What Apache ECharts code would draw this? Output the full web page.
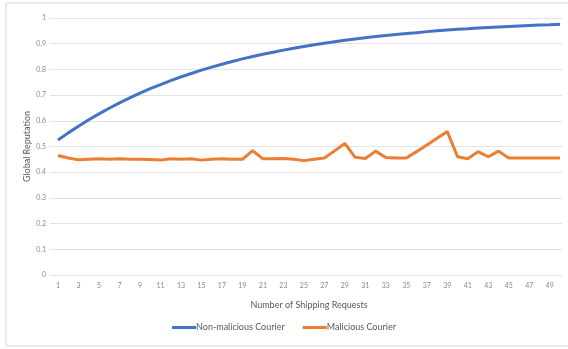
<!DOCTYPE html>
<html><head><meta charset="utf-8">
<script src="https://cdn.jsdelivr.net/npm/echarts@6/dist/echarts.min.js"></script>
<style>html,body{margin:0;padding:0;background:#fff}#c{width:568px;height:349px}</style>
</head><body><div id="c"></div>
<script>
const categories = [];
for (let i = 1; i <= 50; i++) categories.push(String(i));
const nonMalicious = [0.525,0.553,0.579,0.604,0.627,0.649,0.670,0.689,0.708,0.725,
  0.741,0.756,0.771,0.784,0.797,0.809,0.820,0.831,0.841,0.850,
  0.859,0.867,0.875,0.882,0.889,0.896,0.902,0.908,0.913,0.918,
  0.923,0.928,0.932,0.936,0.940,0.943,0.947,0.950,0.953,0.956,
  0.958,0.961,0.963,0.965,0.967,0.969,0.971,0.973,0.974,0.976];
const malicious = [0.465,0.455,0.448,0.450,0.452,0.450,0.452,0.450,0.450,0.449,
  0.447,0.452,0.450,0.452,0.447,0.450,0.452,0.450,0.450,0.484,
  0.452,0.452,0.453,0.450,0.445,0.450,0.455,0.483,0.512,0.458,
  0.453,0.482,0.457,0.455,0.455,0.480,0.506,0.532,0.558,0.460,
  0.452,0.480,0.460,0.482,0.455,0.455,0.455,0.455,0.455,0.455];
const yTicks = ['0','0.1','0.2','0.3','0.4','0.5','0.6','0.7','0.8','0.9','1'];

const font = 'Lato, "Open Sans", sans-serif';
const chart = echarts.init(document.getElementById('c'), null, {renderer:'canvas'});
chart.setOption({
  animation: false,
  backgroundColor: '#fff',
  graphic: [{type:'rect', shape:{x:6, y:3, width:580, height:343}, style:{fill:'none', stroke:'#d9d9d9', lineWidth:1}, silent:true}],
  grid: [
    {left: 50, right: 6, top: 18, bottom: 74},
    {left: 58, right: 8, top: 18, bottom: 74}
  ],
  xAxis: [
    {gridIndex:0, type:'value', min:0, max:1, show:false},
    {gridIndex:1, type:'category', data: categories, boundaryGap:false,
     axisLine:{show:false}, axisTick:{show:false},
     axisLabel:{interval:1, fontSize:7, color:'#8a8a8a', margin:7, fontFamily:font},
     name:'Number of Shipping Requests', nameLocation:'middle', nameGap:26, nameMoveOverlap:false,
     nameTextStyle:{fontSize:9, color:'#595959', fontFamily:font}}
  ],
  yAxis: [
    {gridIndex:0, type:'value', min:0, max:1, interval:0.1,
     axisLine:{show:false}, axisTick:{show:false},
     splitLine:{lineStyle:{color:'#e3e3e3', width:1}},
     axisLabel:{fontSize:7, color:'#8a8a8a', margin:4, fontFamily:font,
       formatter: v => yTicks[Math.round(v*10)]},
     name:'Global Reputation', nameLocation:'middle', nameGap:18, nameMoveOverlap:false,
     nameTextStyle:{fontSize:9, color:'#595959', fontFamily:font}},
    {gridIndex:1, type:'value', min:0, max:1, show:false}
  ],
  legend: {
    bottom: 12, left: 'center', itemWidth: 24, itemHeight: 3, itemGap: 18,
    icon: 'rect',
    textStyle:{fontSize:9, color:'#595959', fontFamily:font, padding:[0,0,0,-5]},
    data: ['Non-malicious Courier','Malicious Courier']
  },
  series: [
    {name:'Non-malicious Courier', type:'line', xAxisIndex:1, yAxisIndex:1, data: nonMalicious,
     showSymbol:false, lineStyle:{color:'#4472C4', width:3}, itemStyle:{color:'#4472C4'}},
    {name:'Malicious Courier', type:'line', xAxisIndex:1, yAxisIndex:1, data: malicious,
     showSymbol:false, lineStyle:{color:'#ED7D31', width:3}, itemStyle:{color:'#ED7D31'}}
  ]
});
</script></body></html>
